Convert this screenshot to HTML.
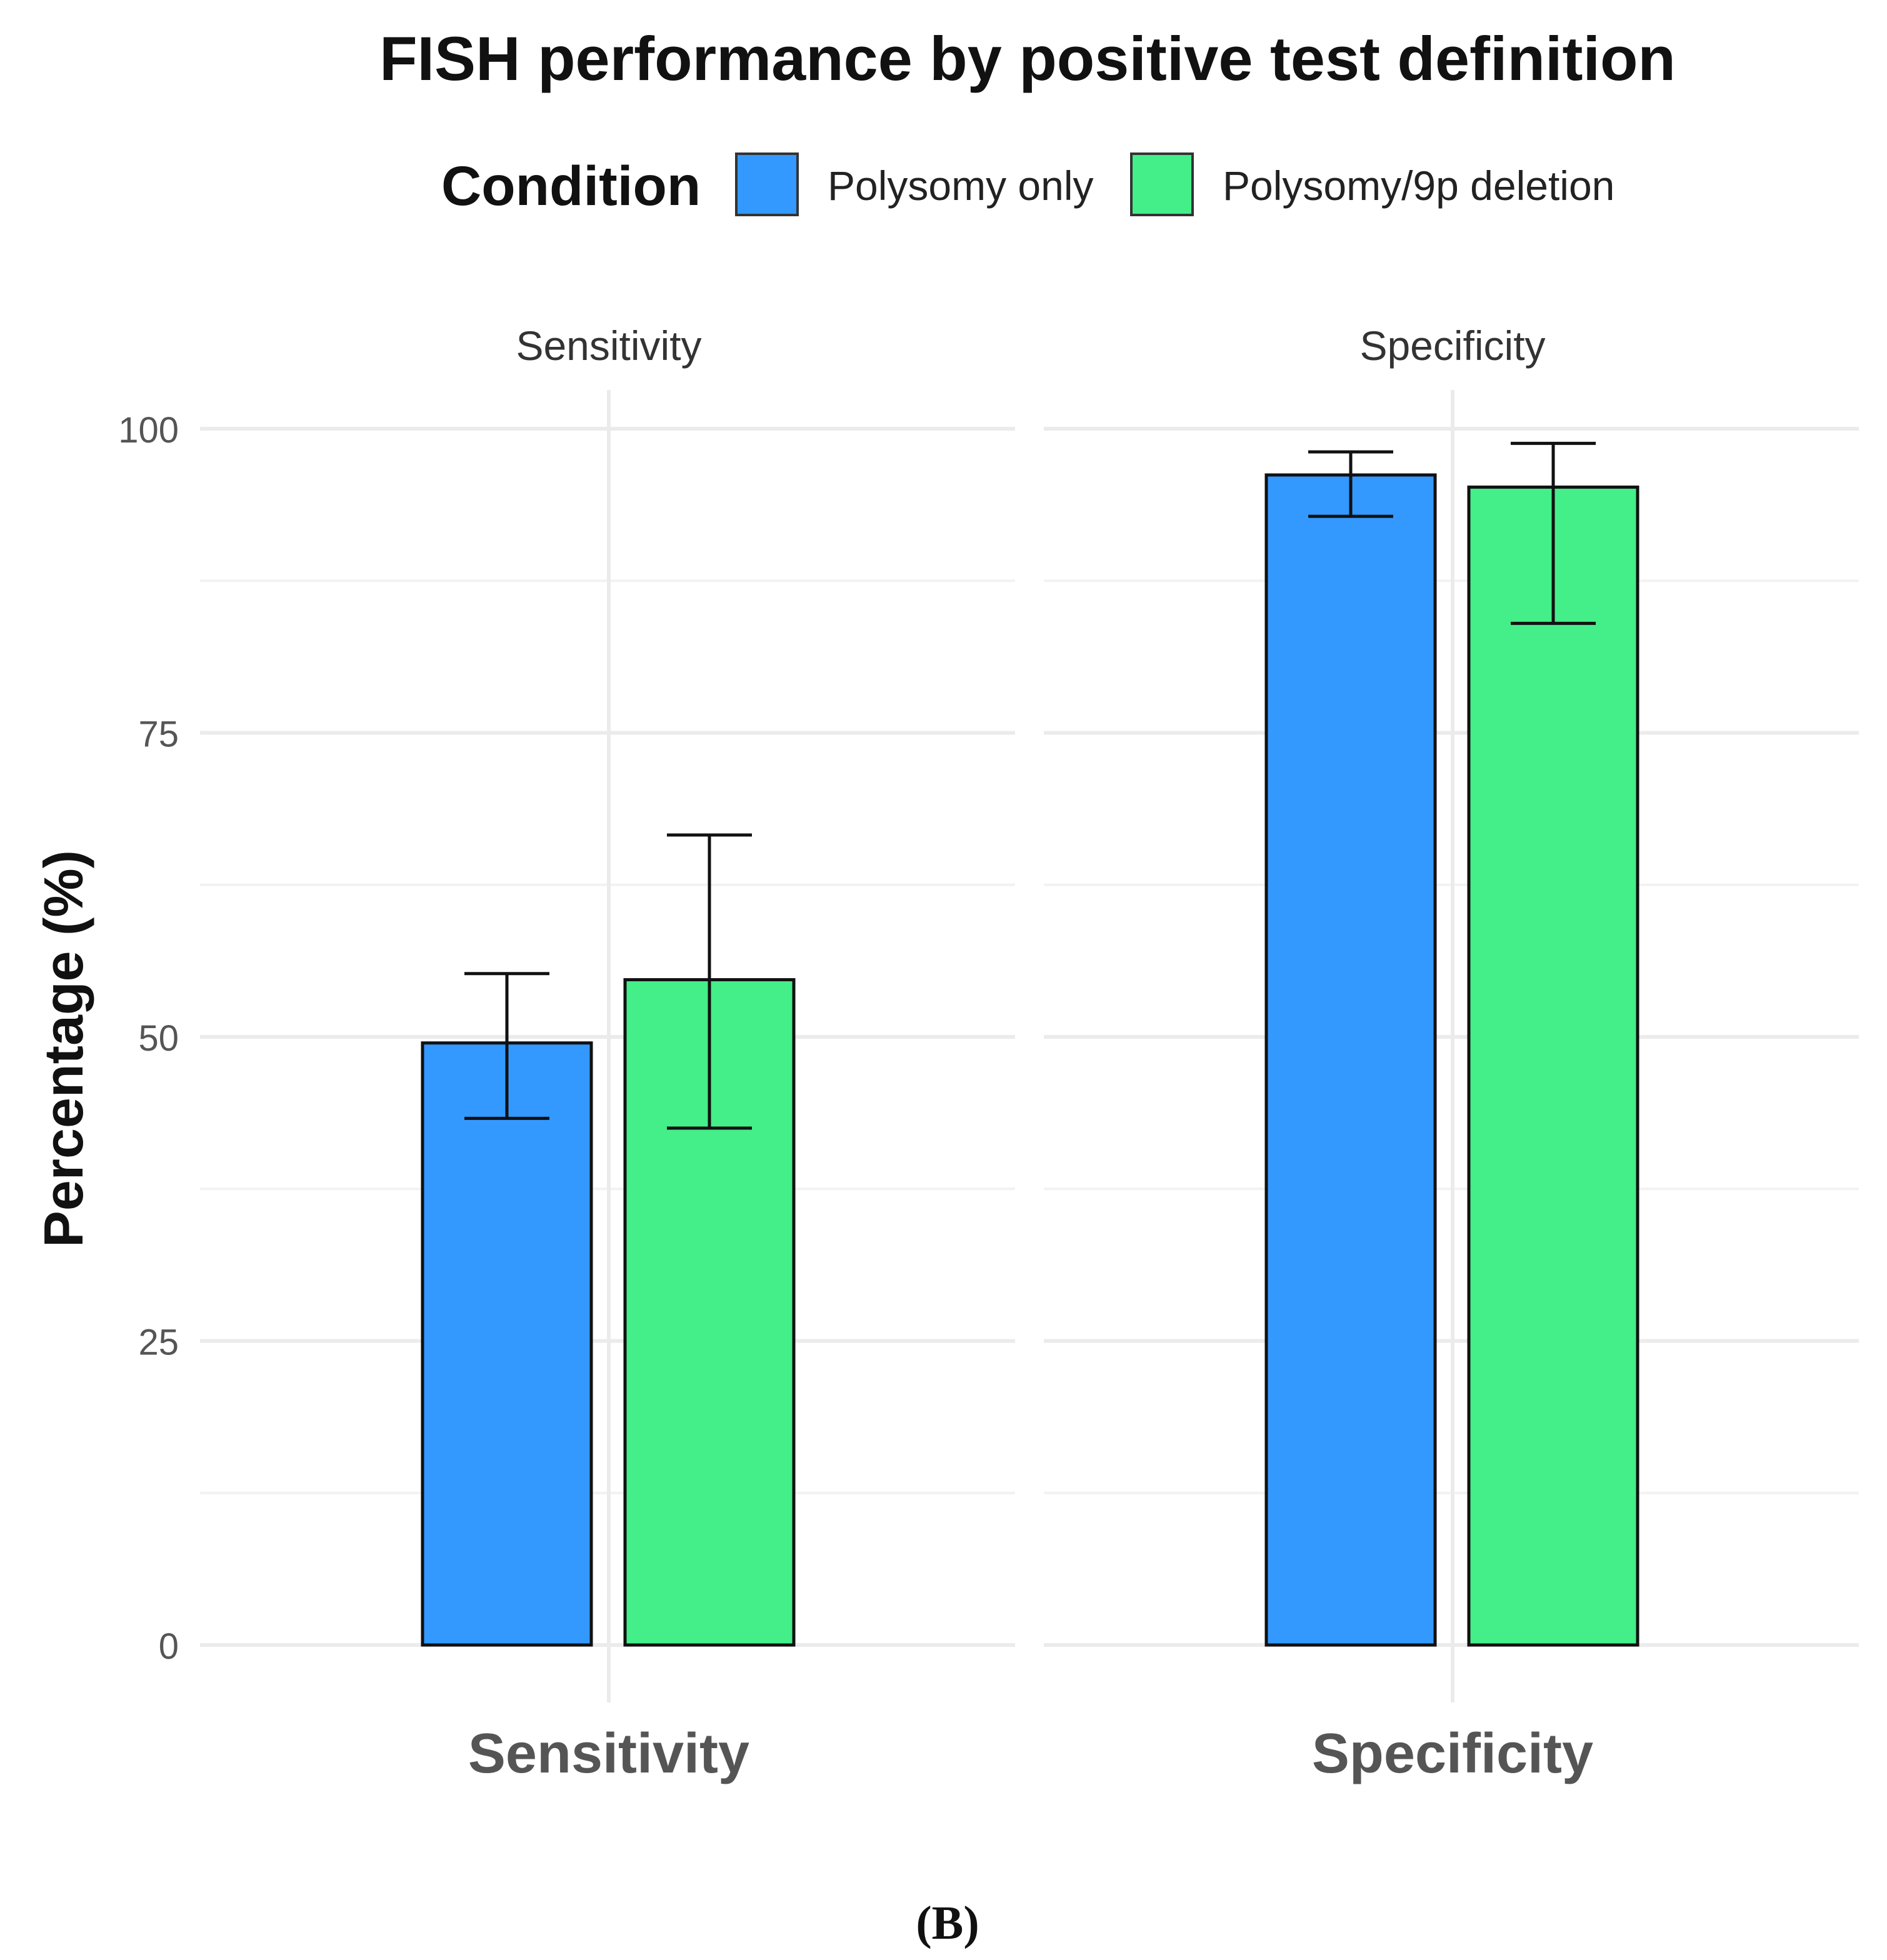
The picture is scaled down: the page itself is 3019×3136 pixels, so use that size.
<!DOCTYPE html>
<html><head><meta charset="utf-8"><style>
html,body{margin:0;padding:0;background:#fff}
svg{display:block}
text{font-family:"Liberation Sans",sans-serif}
</style></head><body>
<svg id="chart" width="3019" height="3136" viewBox="0 0 1509.5 1568" xmlns="http://www.w3.org/2000/svg">
<rect width="1509.5" height="1568" fill="#fff"/>
<text x="822" y="64" font-size="49.5" font-weight="bold" text-anchor="middle" fill="#111">FISH performance by positive test definition</text>
<g>
<text x="353" y="164" font-size="44.5" font-weight="bold" fill="#111">Condition</text>
<rect x="589" y="123" width="49" height="49" fill="#3399ff" stroke="#333" stroke-width="2"/>
<text x="662" y="160" font-size="33" fill="#222">Polysomy only</text>
<rect x="905" y="123" width="49" height="49" fill="#44ee88" stroke="#333" stroke-width="2"/>
<text x="978" y="160" font-size="33" fill="#222">Polysomy/9p deletion</text>
</g>
<g id="plot"></g>
<text transform="translate(66,839) rotate(-90)" font-size="44" font-weight="bold" text-anchor="middle" fill="#111">Percentage (%)</text>
<text x="758" y="1551" font-size="38" font-weight="bold" text-anchor="middle" fill="#111" style="font-family:'Liberation Serif',serif">(B)</text>
</svg>
<script>
const facets = ["Sensitivity", "Specificity"];
const seriesNames = ["Polysomy only", "Polysomy/9p deletion"];
const polysomyOnly = [49.5, 96.2];
const polysomy9p = [54.7, 95.2];
const polysomyOnlyLow = [43.3, 92.8];
const polysomyOnlyHigh = [55.2, 98.1];
const polysomy9pLow = [42.5, 84.0];
const polysomy9pHigh = [66.6, 98.8];
const yTicks = [0, 25, 50, 75, 100];
const yMinor = [12.5, 37.5, 62.5, 87.5];

const NS = "http://www.w3.org/2000/svg";
const g = document.getElementById("plot");
const y = v => 1316 - v * 9.73;
const panels = [{x0:160, x1:812}, {x0:835, x1:1487}];
const colors = ["#3399ff", "#44ee88"];
const vals = [polysomyOnly, polysomy9p];
const lows = [polysomyOnlyLow, polysomy9pLow];
const highs = [polysomyOnlyHigh, polysomy9pHigh];
function mk(tag, attrs) { const e = document.createElementNS(NS, tag); for (const k in attrs) e.setAttribute(k, attrs[k]); g.appendChild(e); return e; }

yTicks.forEach(t => {
  const l = mk("text", {x:143, y:y(t)+11, "font-size":29, "text-anchor":"end", fill:"#555"});
  l.textContent = t;
  
  
});
facets.forEach((f, i) => {
  const p = panels[i];
  const cx = (p.x0 + p.x1) / 2 + 1;
  yMinor.forEach(t => {
    const l = mk("line", {x1:p.x0, x2:p.x1, y1:y(t), y2:y(t), stroke:"#f2f2f2", "stroke-width":2});
    
    
  });
  yTicks.forEach(t => {
    const l = mk("line", {x1:p.x0, x2:p.x1, y1:y(t), y2:y(t), stroke:"#ebebeb", "stroke-width":3});
    
    
  });
  const vl = mk("line", {x1:cx, x2:cx, y1:312, y2:1362, stroke:"#ebebeb", "stroke-width":3});
  
  
  const st = mk("text", {x:cx, y:288, "font-size":33, "text-anchor":"middle", fill:"#333"});
  st.textContent = f;
  
  
  const xl = mk("text", {x:cx, y:1418, "font-size":45, "font-weight":"bold", "text-anchor":"middle", fill:"#555"});
  xl.textContent = f;
  
  
  [0, 1].forEach(s => {
    const bx = s === 0 ? cx - 149 : cx + 13;
    const bw = 135;
    const b = mk("rect", {x:bx, y:y(vals[s][i]), width:bw, height:y(0) - y(vals[s][i]), fill:colors[s], stroke:"#111", "stroke-width":2.5});
    
    
    const mx = bx + bw / 2;
    const e1 = mk("path", {d:`M${mx-34},${y(highs[s][i])}H${mx+34}M${mx},${y(highs[s][i])}V${y(lows[s][i])}M${mx-34},${y(lows[s][i])}H${mx+34}`, stroke:"#111", "stroke-width":2.5, fill:"none"});
    
    
  });
});
</script>
</body></html>
